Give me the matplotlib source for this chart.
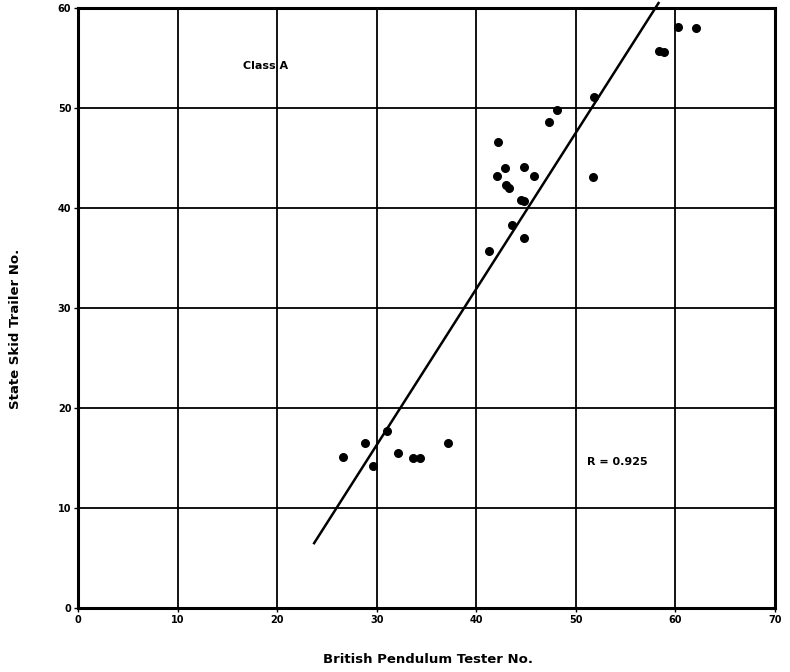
import matplotlib
matplotlib.use("Agg")
import matplotlib.pyplot as plt

# British Pendulum Tester readings vs. State Skid Trailer readings, Class A
pendulum = [26.6, 28.8, 29.6, 31.0, 32.1, 33.6, 34.3, 37.1,
            41.3, 43.6, 44.8, 42.1, 42.9, 42.2, 43.0, 43.3,
            44.8, 45.8, 44.5, 44.8, 47.3, 48.1, 51.7, 51.8,
            58.3, 58.8, 60.3, 62.1]
skid_trailer = [15.1, 16.5, 14.2, 17.7, 15.5, 15.0, 15.0, 16.5,
                35.7, 38.3, 37.0, 43.2, 44.0, 46.6, 42.3, 42.0,
                44.1, 43.2, 40.8, 40.7, 48.6, 49.8, 43.1, 51.1,
                55.7, 55.6, 58.1, 58.0]

# regression line end points
fit_x = [23.7, 58.3]
fit_y = [6.5, 60.5]

x_ticks = [0, 10, 20, 30, 40, 50, 60, 70]
y_ticks = [0, 10, 20, 30, 40, 50, 60]

fig = plt.figure(figsize=(7.9, 6.72), dpi=100)
ax = fig.add_axes([0.099, 0.095, 0.882, 0.893])

ax.set_xlim(0, 70)
ax.set_ylim(0, 60)
ax.set_xticks(x_ticks)
ax.set_yticks(y_ticks)
ax.grid(True, color="black", linewidth=1.3)
ax.set_axisbelow(True)
for sp in ax.spines.values():
    sp.set_linewidth(2.2)

ax.tick_params(axis="both", length=3, width=1, labelsize=7, pad=2)
for lab in ax.get_xticklabels() + ax.get_yticklabels():
    lab.set_fontweight("bold")

ax.plot(fit_x, fit_y, color="black", linewidth=1.8, clip_on=False, zorder=3)
ax.scatter(pendulum, skid_trailer, s=30, color="black", zorder=4, clip_on=False)

ax.text(18.8, 54.2, "Class A", fontsize=8, fontweight="bold", ha="center", va="center")
ax.text(54.2, 14.6, "R = 0.925", fontsize=8, fontweight="bold", ha="center", va="center")

fig.text(0.542, 0.018, "British Pendulum Tester No.", fontsize=9.5, fontweight="bold",
         ha="center", va="center")
fig.text(0.02, 0.51, "State Skid Trailer No.", fontsize=9.5, fontweight="bold",
         ha="center", va="center", rotation=90)

fig.savefig("out.png", dpi=100, facecolor="white")
